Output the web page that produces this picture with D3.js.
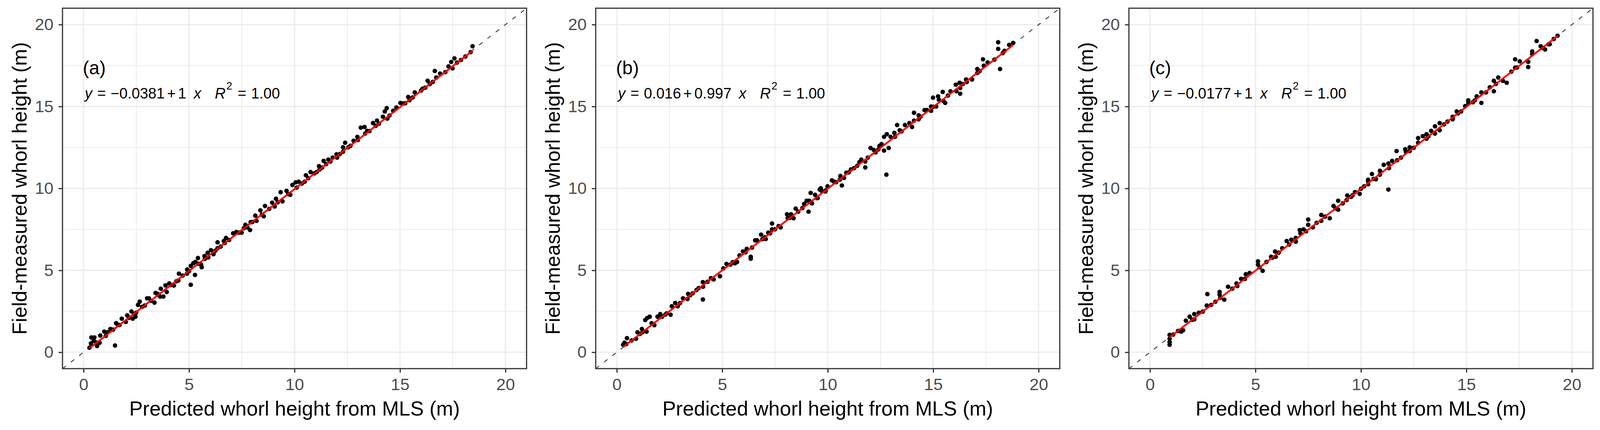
<!DOCTYPE html>
<html>
<head>
<meta charset="utf-8">
<script src="https://cdn.jsdelivr.net/npm/d3@7"></script>
<style>
  body { margin: 0; background: #fff; }
  text { font-family: "Liberation Sans", Arial, sans-serif; }
</style>
</head>
<body>
<script>
// panel labels and fitted equations
let panelLabels = ["(a)", "(b)", "(c)"];
let intercepts = ["\u22120.0381", "0.016", "\u22120.0177"];
let slopes = ["1", "0.997", "1"];
let interceptValues = [-0.0381, 0.016, -0.0177];
let slopeValues = [1, 0.997, 1];
let rSquared = ["1.00", "1.00", "1.00"];

let majorTicks = [0, 5, 10, 15, 20];
let minorTicks = [2.5, 7.5, 12.5, 17.5];

// predicted (x) vs field-measured (y) whorl heights
let pointsA = [
  [0.28,0.28],[0.37,0.90],[0.51,0.90],[0.35,0.54],[0.48,0.70],[0.64,0.38],[0.76,0.58],[0.79,1.02],
  [0.98,1.26],[1.13,1.22],[1.27,1.42],[1.49,0.41],[1.54,1.77],[1.62,1.69],[1.81,2.05],[2.00,1.85],
  [2.07,2.25],[2.27,2.49],[2.33,2.05],[2.46,2.17],[2.49,2.41],[2.58,2.89],[2.66,3.09],[2.77,2.77],
  [3.01,3.29],[3.10,3.29],[3.36,3.03],[3.41,3.62],[3.51,3.56],[3.66,3.88],[3.63,3.40],[3.78,3.40],
  [3.88,4.08],[3.94,3.68],[4.06,4.20],[4.28,4.07],[4.49,4.38],[4.52,4.80],[4.90,4.80],[4.91,5.05],
  [5.08,4.12],[5.08,5.27],[5.20,5.43],[5.28,4.72],[5.30,5.51],[5.42,5.75],[5.57,5.35],[5.60,5.19],
  [5.73,5.87],[5.88,6.07],[5.91,5.79],[6.04,6.23],[6.16,5.99],[6.35,6.71],[6.35,6.35],[6.65,6.79],
  [6.75,6.98],[6.69,6.67],[7.09,7.26],[7.24,7.34],[7.49,7.30],[7.67,7.78],[7.77,7.62],[7.89,7.46],
  [7.92,7.94],[8.14,8.34],[8.20,8.02],[8.38,8.66],[8.54,8.30],[8.60,8.93],
  [8.94,9.13],[9.06,8.90],[9.12,9.37],[9.34,9.77],[9.43,9.21],[9.62,9.85],[9.80,9.61],[9.90,10.21],
  [10.05,10.37],[10.20,10.41],[10.48,10.41],[10.54,10.80],[10.76,11.00],[10.94,10.92],[11.16,11.36],
  [11.19,11.16],[11.38,11.68],[11.50,11.48],[11.60,11.76],[11.81,11.88],[11.99,12.08],[12.02,11.88],
  [12.30,12.51],[12.40,12.79],[12.30,12.24],[12.55,12.51],[12.80,12.91],[12.98,13.15],[13.14,13.71],
  [13.32,13.75],[13.35,13.35],[13.44,13.51],[13.72,13.99],[13.91,14.14],[14.00,13.95],[14.19,14.38],
  [14.28,14.70],[14.37,14.90],[14.40,14.26],[14.68,14.74],[14.83,14.94],[15.02,15.22],[15.14,15.18],
  [15.39,15.58],[15.45,15.38],[15.70,15.86],[16.00,15.98],[16.07,16.09],[16.31,16.57],[16.41,16.37],
  [16.65,17.17],[16.72,16.77],[16.90,17.01],[17.30,17.45],[17.43,17.72],[17.58,17.94],[17.49,17.33],
  [17.89,17.84],[18.35,18.32],[18.44,18.68],
  [0.60,0.59],[1.05,1.00],[1.40,1.38],[1.70,1.66],[2.15,2.10],[2.40,2.33],[2.90,2.85],[3.20,3.14],
  [3.55,3.50],[4.15,4.10],[4.40,4.33],[4.70,4.68],[5.00,4.95],[5.45,5.40],[5.75,5.70],[6.25,6.20],
  [6.50,6.45],[6.90,6.85],[7.35,7.30],[7.60,7.57],[8.00,7.95],[8.45,8.40],[8.80,8.75],[9.20,9.15],
  [9.70,9.65],[10.10,10.05],[10.35,10.30],[10.65,10.62],[11.05,11.00],[11.30,11.27],[11.70,11.64],
  [12.15,12.10],[12.65,12.60],[13.00,12.95],[13.55,13.50],[13.85,13.82],[14.50,14.45],[15.25,15.20],
  [15.60,15.55],[16.20,16.15],[16.55,16.50],[17.15,17.10],[17.70,17.68],[18.10,18.05]
];

let pointsB = [
  [0.30,0.46],[0.36,0.58],[0.48,0.86],[0.45,0.50],[0.91,0.82],[0.98,1.22],[1.19,1.42],[1.22,1.22],
  [1.41,1.26],[1.35,1.97],[1.44,2.09],[1.56,2.17],[1.65,1.77],[1.78,1.65],[1.93,2.17],[2.06,2.33],
  [2.15,2.17],[2.36,2.37],[2.55,2.29],[2.61,2.81],[2.77,3.01],[2.89,2.81],[3.14,3.29],[3.35,3.25],
  [3.38,3.56],[3.48,3.48],[3.78,3.80],[3.88,3.92],[4.08,3.22],[4.09,4.00],[4.08,4.28],[4.46,4.52],
  [4.59,4.44],[4.89,4.64],[5.05,5.12],[5.20,5.39],[5.39,5.35],[5.60,5.43],[5.70,5.51],[5.82,5.91],
  [5.98,6.15],[6.16,6.31],[6.35,5.83],[6.35,5.71],[6.41,6.39],[6.56,6.83],[6.65,6.83],[6.84,7.18],
  [7.06,6.91],[7.02,7.02],[7.18,7.30],[7.27,7.26],[7.36,7.86],[7.36,7.50],[7.67,7.70],[7.77,7.62],
  [8.07,8.42],[8.10,8.18],[8.26,8.42],[8.38,8.18],[8.48,8.77],[8.60,8.58],[8.88,9.05],[9.00,9.25],
  [9.12,9.25],[9.09,8.58],[9.19,9.73],[9.25,9.09],[9.40,9.61],[9.52,9.41],[9.62,9.93],
  [9.49,9.41],[9.67,10.01],[9.71,9.85],[9.89,9.81],[9.99,10.13],[10.20,10.49],[10.30,10.41],
  [10.60,10.76],[10.57,10.53],[10.67,10.18],[10.77,10.64],[10.88,10.96],[11.10,11.16],[11.25,11.24],
  [11.50,11.60],[11.59,11.76],[11.78,11.64],[11.78,11.28],[11.90,11.88],[12.78,10.84],[12.03,12.47],
  [12.18,12.35],[12.27,12.20],[12.45,12.59],[12.55,12.71],[12.67,12.31],[12.89,12.47],[12.67,13.15],
  [12.80,13.31],[12.98,13.15],[13.16,13.39],[13.19,13.15],[13.29,13.87],[13.41,13.55],[13.66,13.87],
  [13.87,13.99],[14.00,13.75],[14.09,14.62],[14.09,14.14],[14.31,14.46],[14.31,14.22],[14.59,14.78],
  [14.71,14.78],[14.90,14.74],[14.99,15.54],[14.90,15.00],[15.14,15.00],[15.23,15.62],[15.27,15.42],
  [15.45,15.89],[15.48,15.34],[15.57,15.22],[15.82,15.93],[16.07,16.33],[16.10,15.93],[16.25,16.45],
  [16.28,16.13],[16.28,15.78],[16.56,16.65],[16.59,16.49],[16.84,16.65],[17.09,17.29],[17.09,17.05],
  [17.36,17.88],[17.40,17.49],[17.58,17.69],[18.08,18.92],[18.08,18.52],[18.17,17.29],[18.38,18.40],
  [18.60,18.76],[18.79,18.88],
  [0.70,0.72],[1.10,1.12],[2.30,2.30],[3.00,3.00],[3.60,3.60],[4.30,4.30],[5.50,5.50],[6.10,6.10],
  [6.90,6.90],[7.50,7.50],[8.20,8.20],[8.80,8.80],[9.90,9.88],[10.40,10.38],[11.00,10.98],[11.40,11.38],
  [12.40,12.38],[13.50,13.48],[14.40,14.38],[15.00,14.98],[15.70,15.67],[16.40,16.37],[17.20,17.16],
  [17.90,17.86],[18.30,18.26]
];

let pointsC = [
  [0.93,0.46],[0.93,0.62],[0.93,0.82],[0.93,1.06],[1.33,1.30],[1.48,1.26],[1.57,1.34],[1.70,1.93],
  [1.88,2.17],[2.10,2.33],[2.10,2.01],[2.31,2.41],[2.69,2.85],[2.72,3.55],[2.90,2.89],[3.30,3.68],
  [3.30,3.52],[3.33,3.33],[3.52,3.21],[3.70,4.00],[4.10,4.20],[4.14,4.04],[4.32,4.48],[4.54,4.76],
  [4.72,4.84],[5.12,5.55],[5.12,5.35],[5.34,4.97],[5.52,5.51],[5.74,5.83],[5.93,6.15],[5.96,5.83],
  [6.27,6.35],[6.48,6.79],[6.70,6.87],[6.91,6.75],[6.91,6.98],[7.10,7.46],[7.13,7.26],[7.28,7.50],
  [7.50,8.10],[7.50,7.78],[7.72,7.62],[7.90,7.90],[8.12,8.38],[8.12,8.02],[8.52,8.18],[8.70,8.93],
  [8.92,9.25],[8.92,8.70],[9.14,9.09],[9.32,9.29],[9.35,9.57],[9.54,9.49],[9.72,9.77],[9.94,9.67],
  [10.15,10.13],[10.34,10.45],
  [10.34,10.53],[10.34,10.25],[10.52,10.88],[10.71,10.56],[10.90,11.08],[10.90,10.84],[11.08,11.44],
  [11.30,9.93],[11.30,11.52],[11.33,11.24],[11.48,11.68],[11.69,12.28],[11.72,11.72],[12.10,12.39],
  [12.13,12.24],[12.31,12.51],[12.31,12.28],[12.71,13.07],[12.71,12.79],[12.93,13.19],[13.11,13.31],
  [13.11,13.03],[13.33,13.51],[13.51,13.79],[13.51,13.35],[13.73,13.99],[13.73,13.55],[13.94,13.91],
  [14.35,14.38],[14.35,14.22],[14.54,14.70],[14.75,14.70],[14.94,15.02],[15.09,15.38],[15.09,15.22],
  [15.31,15.26],[15.49,15.62],[15.71,15.22],[15.71,15.86],[15.93,15.86],[16.11,16.17],[16.30,16.57],
  [16.30,15.93],[16.51,16.77],[16.73,16.57],[16.91,16.45],[17.13,17.13],[17.31,17.88],[17.31,17.37],
  [17.53,17.76],[17.93,17.73],[17.93,17.41],[18.12,18.36],[18.12,18.20],[18.33,19.00],[18.52,18.68],
  [18.73,18.48],[18.89,18.80],[18.95,18.80],[19.14,19.12],[19.32,19.32],
  [1.10,1.08],[2.00,1.98],[2.50,2.48],[3.10,3.08],[3.90,3.88],[4.50,4.48],[5.20,5.18],[5.80,5.78],
  [6.10,6.08],[6.60,6.58],[7.40,7.38],[8.30,8.28],[8.80,8.78],[9.60,9.58],[10.00,9.98],[10.60,10.58],
  [11.90,11.88],[12.50,12.48],[13.20,13.18],[14.10,14.08],[14.60,14.58],[15.40,15.38],[16.40,16.38],
  [17.40,17.38],[18.60,18.58]
];

let panelPoints = [pointsA, pointsB, pointsC];

// layout of the three facets
let margin = {top: 21, left: 160},
    panelStep = 1365,
    width = 1188,
    height = 922;

let svg = d3.select("body").append("svg")
    .attr("width", 4108)
    .attr("height", 1100)
    .style("background", "#fff");

let x = d3.scaleLinear().domain([-1, 21]).range([0, width]);
let y = d3.scaleLinear().domain([-1, 21]).range([height, 0]);

svg.append("defs").append("clipPath")
    .attr("id", "plotClip")
  .append("rect")
    .attr("width", width)
    .attr("height", height);

panelPoints.forEach(function(points, i) {
  let g = svg.append("g")
      .attr("transform", "translate(" + (margin.left + i * panelStep) + "," + margin.top + ")");

  // grid
  let grid = g.append("g");
  grid.selectAll(".vminor").data(minorTicks).enter().append("line")
      .attr("x1", d => x(d)).attr("x2", d => x(d))
      .attr("y1", 0).attr("y2", height)
      .attr("stroke", "#ebebeb").attr("stroke-width", 2);
  grid.selectAll(".hminor").data(minorTicks).enter().append("line")
      .attr("y1", d => y(d)).attr("y2", d => y(d))
      .attr("x1", 0).attr("x2", width)
      .attr("stroke", "#ebebeb").attr("stroke-width", 2);
  grid.selectAll(".vmajor").data(majorTicks).enter().append("line")
      .attr("x1", d => x(d)).attr("x2", d => x(d))
      .attr("y1", 0).attr("y2", height)
      .attr("stroke", "#ebebeb").attr("stroke-width", 3);
  grid.selectAll(".hmajor").data(majorTicks).enter().append("line")
      .attr("y1", d => y(d)).attr("y2", d => y(d))
      .attr("x1", 0).attr("x2", width)
      .attr("stroke", "#ebebeb").attr("stroke-width", 3);

  let plot = g.append("g").attr("clip-path", "url(#plotClip)");

  // 1:1 line
  plot.append("line")
      .attr("x1", x(-1)).attr("y1", y(-1))
      .attr("x2", x(21)).attr("y2", y(21))
      .attr("stroke", "#333")
      .attr("stroke-width", 2.2)
      .attr("stroke-dasharray", "11,16");

  // the points
  plot.selectAll("circle")
      .data(points)
    .enter().append("circle")
      .attr("r", 5.8)
      .attr("cx", d => x(d[0]))
      .attr("cy", d => y(d[1]))
      .attr("fill", "#000");

  // fitted line over the range of the data
  let ext = d3.extent(points, d => d[0]);
  let fit = ext.map(v => [v, interceptValues[i] + slopeValues[i] * v]);
  plot.append("path")
      .datum(fit)
      .attr("d", d3.line().x(d => x(d[0])).y(d => y(d[1])))
      .attr("stroke", "#ff0000")
      .attr("stroke-width", 4.5)
      .attr("fill", "none");

  // panel border
  g.append("rect")
      .attr("width", width)
      .attr("height", height)
      .attr("fill", "none")
      .attr("stroke", "#333")
      .attr("stroke-width", 3);

  // axes
  let xAxis = g.append("g")
      .attr("transform", "translate(0," + height + ")")
      .call(d3.axisBottom(x).tickValues(majorTicks).tickSize(10).tickPadding(14));
  let yAxis = g.append("g")
      .call(d3.axisLeft(y).tickValues(majorTicks).tickSize(10).tickPadding(13));
  [xAxis, yAxis].forEach(function(a) {
    a.select(".domain").remove();
    a.selectAll(".tick line").attr("stroke", "#333").attr("stroke-width", 3);
    a.selectAll(".tick text")
        .attr("fill", "#4d4d4d")
        .style("font-size", "43px")
        .style("font-family", "'Liberation Sans', Arial, sans-serif");
  });

  // axis titles
  g.append("text")
      .attr("x", width / 2)
      .attr("y", 1063 - margin.top)
      .attr("text-anchor", "middle")
      .style("font-size", "52px")
      .attr("fill", "#000")
      .text("Predicted whorl height from MLS (m)");
  g.append("text")
      .attr("transform", "translate(" + (68 - margin.left) + "," + (height / 2) + ") rotate(-90)")
      .attr("text-anchor", "middle")
      .style("font-size", "52px")
      .attr("fill", "#000")
      .text("Field-measured whorl height (m)");

  // panel label
  g.append("text")
      .attr("x", x(0) - 2)
      .attr("y", 190 - margin.top)
      .style("font-size", "48px")
      .attr("fill", "#000")
      .text(panelLabels[i]);

  // equation
  let eq = g.append("text")
      .attr("x", x(0) + 3)
      .attr("y", 252 - margin.top)
      .style("font-size", "38px")
      .attr("fill", "#000");
  eq.append("tspan").style("font-style", "italic").text("y");
  eq.append("tspan").attr("dx", 13).text("=");
  eq.append("tspan").attr("dx", 12).text(intercepts[i]);
  eq.append("tspan").attr("dx", 6).text("+");
  eq.append("tspan").attr("dx", 6).text(slopes[i]);
  eq.append("tspan").attr("dx", 19).style("font-style", "italic").text("x");
  eq.append("tspan").attr("dx", 35).style("font-style", "italic").text("R");
  eq.append("tspan").attr("dx", 2).attr("dy", -23).style("font-size", "27px").text("2");
  eq.append("tspan").attr("dx", 14).attr("dy", 23).text("=");
  eq.append("tspan").attr("dx", 12).text(rSquared[i]);
});
</script>
</body>
</html>
